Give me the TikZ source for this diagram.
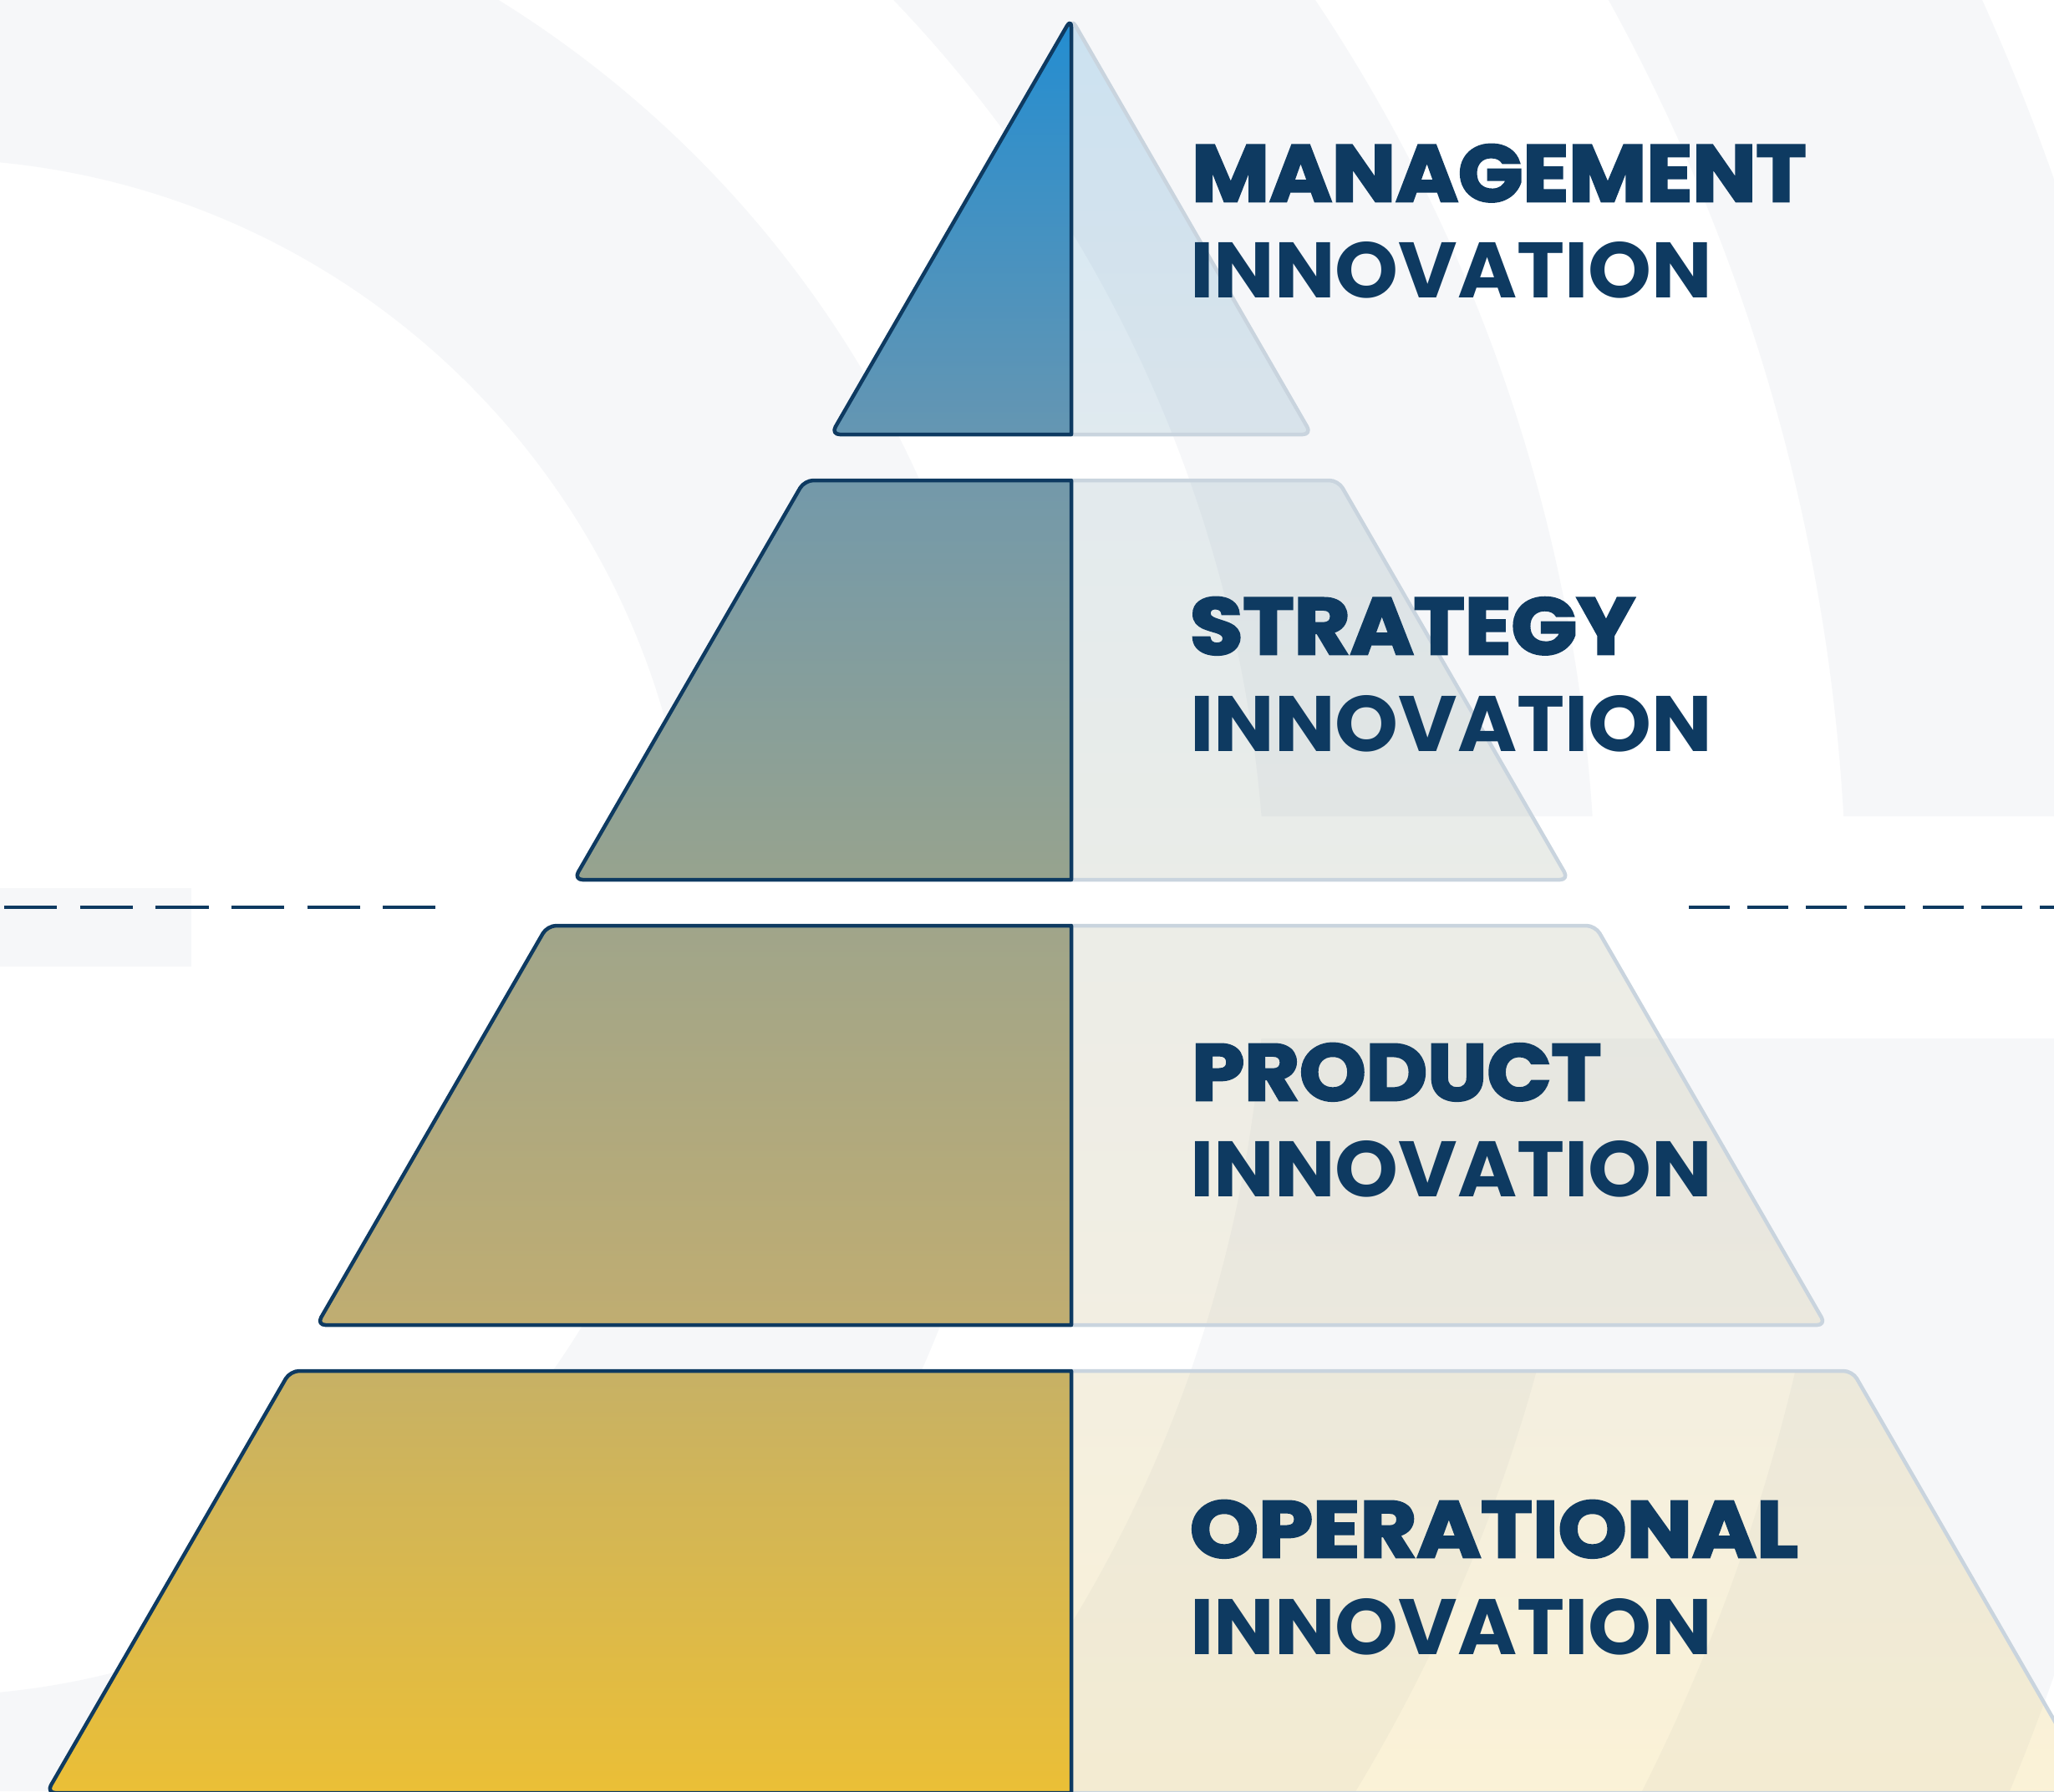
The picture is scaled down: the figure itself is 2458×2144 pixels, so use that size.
\documentclass[tikz,border=0pt]{standalone}
\usepackage{fontspec}
\setmainfont{Poppins}
\newfontfamily\fheavyfam{Poppins}[BoldFeatures={FakeBold=3}]
\newfontfamily\fmedfam{Poppins}
\newcommand\fheavy{\fheavyfam\bfseries}
\newcommand\fmed{\fmedfam\bfseries}
\definecolor{navy}{HTML}{0E3A61}
\definecolor{bggrey}{HTML}{F6F7F9}
\definecolor{rline}{HTML}{C9D4DE}
\definecolor{ta}{HTML}{238DD1}\definecolor{tb}{HTML}{6596B2}
\definecolor{tc}{HTML}{7399AA}\definecolor{td}{HTML}{97A38E}
\definecolor{te}{HTML}{A0A58A}\definecolor{tf}{HTML}{C0AD71}
\definecolor{tg}{HTML}{C7B165}\definecolor{th}{HTML}{EBBF36}
\tikzset{
  lhalf/.style={draw=navy, line width=0.045cm, line join=round},
  rhalf/.style={draw=rline, line width=0.045cm, line join=round, fill opacity=0.2},
  lbl/.style={anchor=base west, inner sep=0pt, outer sep=0pt, text=navy},
  dashln/.style={draw=navy, line width=0.04cm},
}
\begin{document}
\begin{tikzpicture}[x=0.01cm, y=-0.01cm]
\useasboundingbox (0,0) rectangle (2458,2144);
\clip (0,0) rectangle (2458,2144);
\fill[white] (0,0) rectangle (2458,2144);
% background rings
\begin{scope}
\clip (0,0) rectangle (2458,977) (0,1243) rectangle (2458,2144);
\fill[bggrey, even odd rule] (-90,1110) circle[radius=920] (-90,1110) circle[radius=1305]
  (-90,1110) circle[radius=1605] (-90,1110) circle[radius=2000]
  (-90,1110) circle[radius=2300] (-90,1110) circle[radius=2700];
\end{scope}
\begin{scope}
\clip (0,1243) rectangle (2458,1641);
\fill[bggrey, even odd rule] (-90,1110) circle[radius=1605] (-500,-500) rectangle (3000,3000);
\end{scope}
\fill[bggrey] (0,1063) rectangle (229,1157);
% right halves
\shadedraw[rhalf, top color=ta, bottom color=tb] (1282,520) [rounded corners=3pt] -- (1282,22) -- (1569.5,520) [sharp corners] -- cycle;
\shadedraw[rhalf, top color=tc, bottom color=td] (1282,1053) -- (1282,575) [rounded corners=3pt] -- (1601.3,575) -- (1877.3,1053) [sharp corners] -- cycle;
\shadedraw[rhalf, top color=te, bottom color=tf] (1282,1586) -- (1282,1108) [rounded corners=3pt] -- (1909,1108) -- (2185,1586) [sharp corners] -- cycle;
\shadedraw[rhalf, top color=tg, bottom color=th] (1282,2146) -- (1282,1641) [rounded corners=3pt] -- (2216.7,1641) -- (2508.3,2146) [sharp corners] -- cycle;
% left halves
\shadedraw[lhalf, top color=ta, bottom color=tb] (1282,520) [rounded corners=3pt] -- (1282,22) -- (994.5,520) [sharp corners] -- cycle;
\shadedraw[lhalf, top color=tc, bottom color=td] (1282,1053) -- (1282,575) [rounded corners=3pt] -- (962.7,575) -- (686.7,1053) [sharp corners] -- cycle;
\shadedraw[lhalf, top color=te, bottom color=tf] (1282,1586) -- (1282,1108) [rounded corners=3pt] -- (655,1108) -- (379,1586) [sharp corners] -- cycle;
\shadedraw[lhalf, top color=tg, bottom color=th] (1282,2146) -- (1282,1641) [rounded corners=3pt] -- (347.3,1641) -- (55.7,2146) [sharp corners] -- cycle;
% dashed separators
\coordinate (dla) at (5,1086);
\coordinate (dlb) at (521,1086);
\coordinate (dra) at (2021,1086);
\coordinate (drb) at (2470,1086);
\draw[dashln, dash pattern=on 0.634cm off 0.272cm] (dla) -- (dlb);
\draw[dashln, dash pattern=on 0.49cm off 0.21cm] (dra) -- (drb);
% labels
\node[lbl] (l1a) at (1426,241) {\resizebox{7.35cm}{0.68cm}{\fheavy MANAGEMENT}};
\node[lbl] (l1b) at (1424,356) {\resizebox{6.25cm}{0.67cm}{\fmed INNOVATION}};
\node[lbl] (l2a) at (1424,783) {\resizebox{5.32cm}{0.68cm}{\fheavy STRATEGY}};
\node[lbl] (l2b) at (1424,899) {\resizebox{6.25cm}{0.67cm}{\fmed INNOVATION}};
\node[lbl] (l3a) at (1426,1317) {\resizebox{4.9cm}{0.68cm}{\fheavy PRODUCT}};
\node[lbl] (l3b) at (1424,1432) {\resizebox{6.25cm}{0.67cm}{\fmed INNOVATION}};
\node[lbl] (l4a) at (1424,1864) {\resizebox{7.27cm}{0.68cm}{\fheavy OPERATIONAL}};
\node[lbl] (l4b) at (1424,1980) {\resizebox{6.25cm}{0.67cm}{\fmed INNOVATION}};
\end{tikzpicture}
\end{document}
